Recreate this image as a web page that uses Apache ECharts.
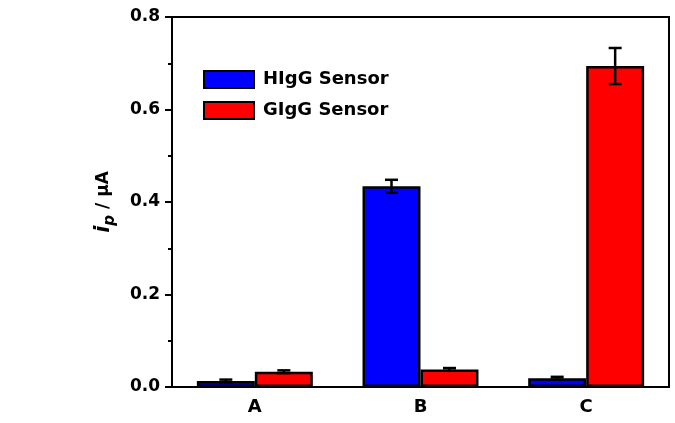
<!DOCTYPE html>
<html>
<head>
<meta charset="utf-8">
<script src="https://cdn.jsdelivr.net/npm/echarts@6/dist/echarts.min.js"></script>
<style>
html,body{margin:0;padding:0;background:#fff;}
#container{width:675px;height:423px;}
</style>
</head>
<body>
<div id="container"></div>
<script>
var categories = ['A', 'B', 'C'];
var hIgG = [0.013, 0.434, 0.019];
var hIgGErr = [0.003, 0.014, 0.003];
var gIgG = [0.033, 0.038, 0.694];
var gIgGErr = [0.003, 0.003, 0.039];
var yTicks = [0, 0.2, 0.4, 0.6, 0.8];

var FONT = 'DejaVu Sans';
var BAR_FRAC = 0.35;

function errData(vals, errs) {
	var out = [];
	for (var i = 0; i < vals.length; i++) {
		out.push([i, vals[i], vals[i] - errs[i], vals[i] + errs[i]]);
	}
	return out;
}

function errRender(side) {
	return function(params, api) {
		var band = api.size([1, 0])[0];
		var off = side * band * BAR_FRAC / 2;
		var lo = api.coord([api.value(0), api.value(2)]);
		var hi = api.coord([api.value(0), api.value(3)]);
		var x = lo[0] + off;
		var cap = 6.5;
		var st = { stroke: '#000', lineWidth: 2.5 };
		return {
			type: 'group',
			children: [
				{ type: 'line', shape: { x1: x, y1: lo[1], x2: x, y2: hi[1] }, style: st },
				{ type: 'line', shape: { x1: x - cap, y1: lo[1], x2: x + cap, y2: lo[1] }, style: st },
				{ type: 'line', shape: { x1: x - cap, y1: hi[1], x2: x + cap, y2: hi[1] }, style: st }
			]
		};
	};
}

var dom = document.getElementById('container');
var myChart = echarts.init(dom);
var option = {
	animation: false,
	grid: {
		left: 172, right: 6, top: 17, bottom: 36,
		show: true, borderColor: '#000', borderWidth: 2
	},
	legend: {
		orient: 'vertical',
		left: 198, top: 65,
		itemWidth: 50, itemHeight: 17, itemGap: 12,
		icon: 'rect',
		data: ['HIgG Sensor', 'GIgG Sensor'],
		textStyle: { fontFamily: FONT, fontWeight: 'bold', fontSize: 18, color: '#000', padding: [0, 0, 0, 4] }
	},
	xAxis: {
		type: 'category',
		data: categories,
		axisLine: { lineStyle: { color: '#000', width: 2 } },
		axisTick: { show: false },
		axisLabel: { fontFamily: FONT, fontWeight: 'bold', fontSize: 18, color: '#000', margin: 11 }
	},
	yAxis: {
		type: 'value',
		min: 0, max: 0.8, interval: 0.2,
		name: '{i|i}{p|p}{n| / μA}',
		nameLocation: 'middle',
		nameGap: 54,
		nameTextStyle: {
			rich: {
				i: { fontFamily: FONT, fontWeight: 'bold', fontStyle: 'italic', fontSize: 21, color: '#000' },
				p: { fontFamily: FONT, fontWeight: 'bold', fontStyle: 'italic', fontSize: 15, color: '#000', padding: [14, 0, 0, 0] },
				n: { fontFamily: FONT, fontWeight: 'bold', fontSize: 17, color: '#000' }
			}
		},
		splitLine: { show: false },
		axisLine: { show: true, lineStyle: { color: '#000', width: 2 } },
		axisTick: { show: true, length: 7, lineStyle: { color: '#000', width: 2 } },
		minorTick: { show: true, splitNumber: 2, length: 4, lineStyle: { color: '#000', width: 2 } },
		axisLabel: {
			fontFamily: FONT, fontWeight: 'bold', fontSize: 17, color: '#000', margin: 12,
			formatter: function(v) { return yTicks.indexOf(v) >= 0 ? v.toFixed(1) : ''; }
		}
	},
	series: [
		{
			name: 'HIgG Sensor', type: 'bar', data: hIgG,
			barWidth: (BAR_FRAC * 100) + '%', barGap: '0%',
			itemStyle: { color: '#0000ff', borderColor: '#000', borderWidth: 2.5 }
		},
		{
			name: 'GIgG Sensor', type: 'bar', data: gIgG,
			barWidth: (BAR_FRAC * 100) + '%', barGap: '0%',
			itemStyle: { color: '#ff0000', borderColor: '#000', borderWidth: 2.5 }
		},
		{
			type: 'custom', renderItem: errRender(-1), data: errData(hIgG, hIgGErr),
			encode: { x: 0, y: [1, 2, 3] }, z: 10, silent: true
		},
		{
			type: 'custom', renderItem: errRender(1), data: errData(gIgG, gIgGErr),
			encode: { x: 0, y: [1, 2, 3] }, z: 10, silent: true
		}
	]
};
myChart.setOption(option);
</script>
</body>
</html>
